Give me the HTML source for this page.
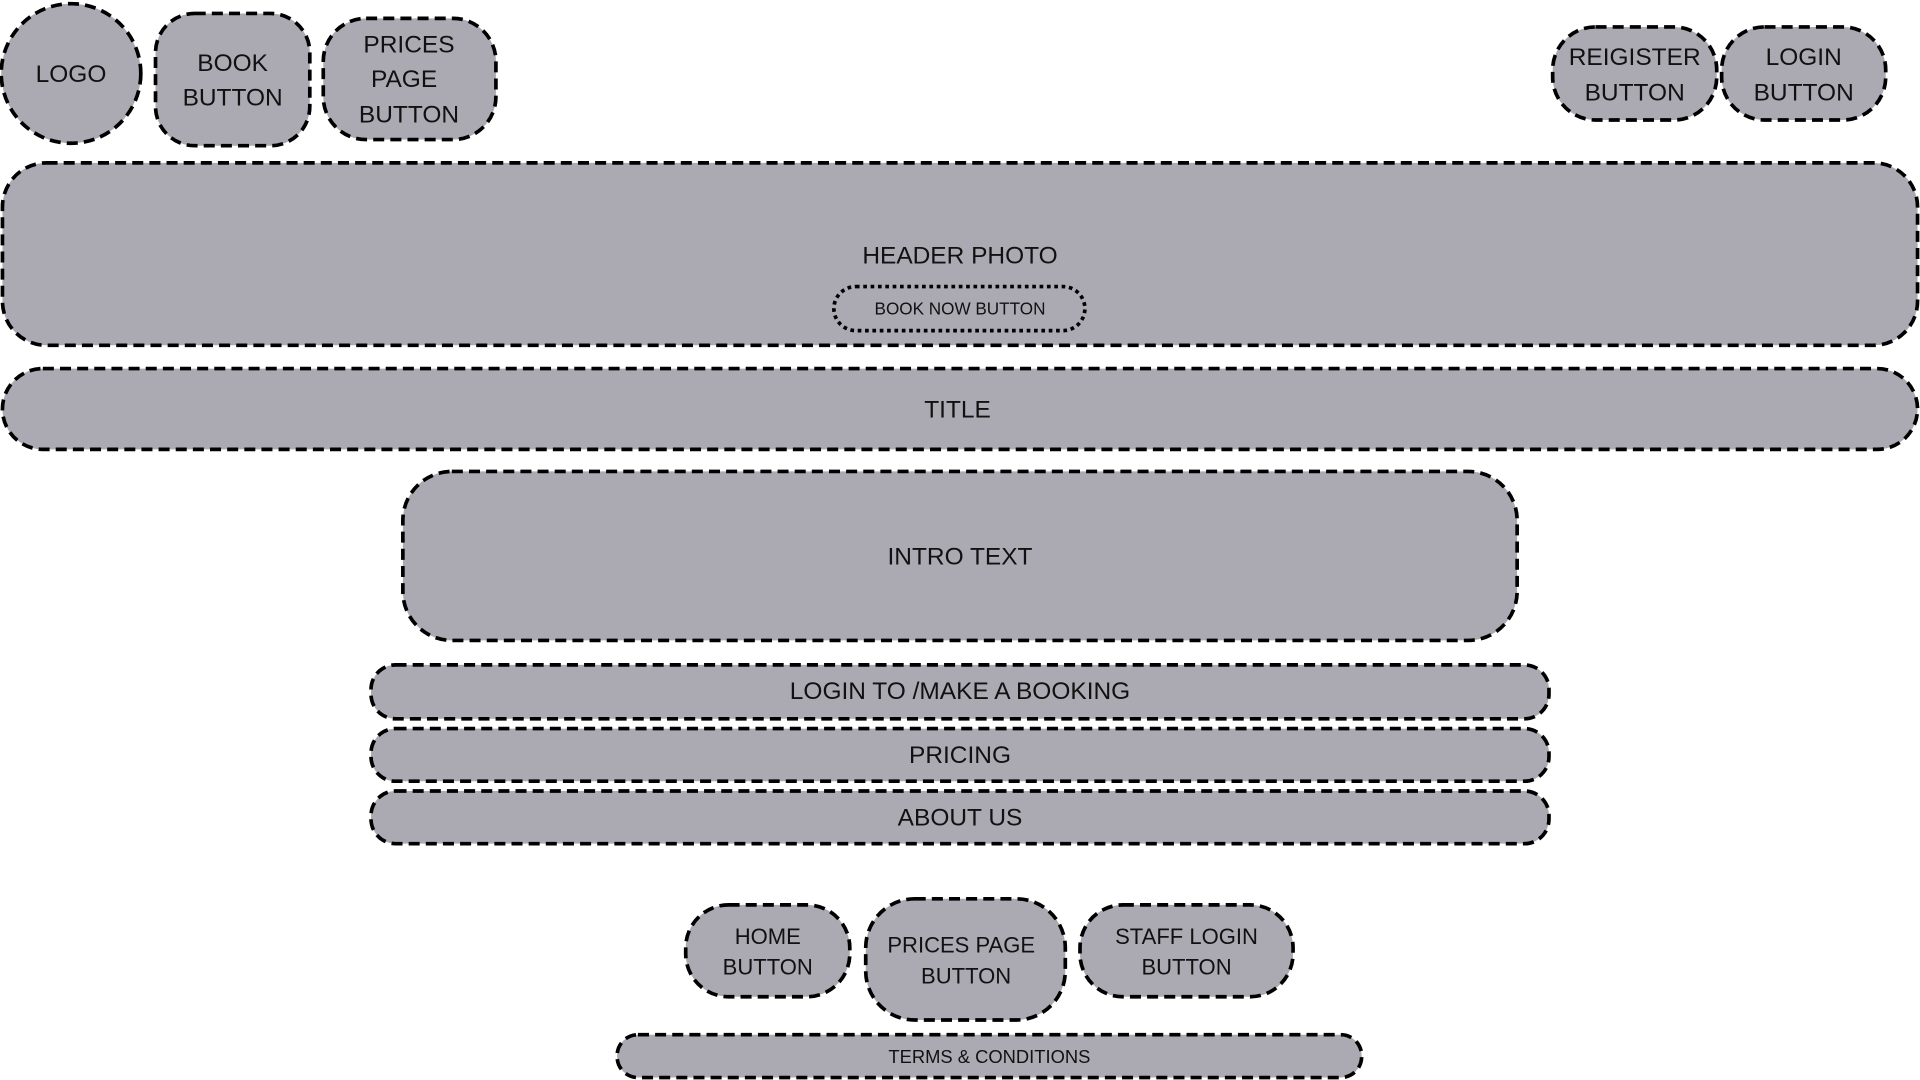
<!DOCTYPE html>
<html><head><meta charset="utf-8"><style>
html,body{margin:0;padding:0;background:#fff;width:1920px;height:1080px;overflow:hidden}
svg{display:block}
text{font-family:"Liberation Sans",sans-serif;fill:#111;text-anchor:middle}
.s{fill:#abaab3;stroke:#000;stroke-width:3;stroke-dasharray:9 5}
.d{fill:#abaab3;stroke:#000;stroke-width:3;stroke-dasharray:3 3}
</style></head><body>
<svg width="1920" height="1080" viewBox="0 0 1568 882" xmlns="http://www.w3.org/2000/svg">
<circle class="s" cx="58" cy="60" r="57"/>
<text x="58" y="67" font-size="20">LOGO</text>
<rect class="s" x="127" y="11" width="126" height="108" rx="32"/>
<text x="190" y="58" font-size="20">BOOK</text><text x="190" y="86" font-size="20">BUTTON</text>
<rect class="s" x="264" y="15" width="141" height="99" rx="35"/>
<text x="334" y="43" font-size="20">PRICES</text><text x="330" y="71" font-size="20">PAGE</text><text x="334" y="100" font-size="20">BUTTON</text>
<rect class="s" x="1268" y="22" width="134" height="76" rx="35"/>
<text x="1335" y="53" font-size="20">REIGISTER</text><text x="1335" y="82" font-size="20">BUTTON</text>
<rect class="s" x="1406" y="22" width="134" height="76" rx="35"/>
<text x="1473" y="53" font-size="20">LOGIN</text><text x="1473" y="82" font-size="20">BUTTON</text>
<rect class="s" x="2" y="133" width="1564" height="149" rx="36"/>
<text x="784" y="215" font-size="20">HEADER PHOTO</text>
<rect class="d" x="681" y="234" width="205" height="36" rx="18"/>
<text x="784" y="257" font-size="14">BOOK NOW BUTTON</text>
<rect class="s" x="2" y="301" width="1564" height="66" rx="33"/>
<text x="782" y="341" font-size="20">TITLE</text>
<rect class="s" x="329" y="385" width="910" height="138" rx="40"/>
<text x="784" y="461" font-size="20">INTRO TEXT</text>
<rect class="s" x="303" y="543" width="962" height="44" rx="20"/>
<text x="784" y="571" font-size="20">LOGIN TO /MAKE A BOOKING</text>
<rect class="s" x="303" y="595" width="962" height="43" rx="20"/>
<text x="784" y="623" font-size="20">PRICING</text>
<rect class="s" x="303" y="646" width="962" height="43" rx="20"/>
<text x="784" y="674" font-size="20">ABOUT US</text>
<rect class="s" x="560" y="739" width="134" height="75" rx="35"/>
<text x="627" y="771" font-size="18">HOME</text><text x="627" y="796" font-size="18">BUTTON</text>
<rect class="s" x="707" y="734" width="163" height="99" rx="40"/>
<text x="785" y="778" font-size="18">PRICES PAGE</text><text x="789" y="803" font-size="18">BUTTON</text>
<rect class="s" x="882" y="739" width="174" height="75" rx="35"/>
<text x="969" y="771" font-size="18">STAFF LOGIN</text><text x="969" y="796" font-size="18">BUTTON</text>
<rect class="s" x="504" y="845" width="608" height="35" rx="17"/>
<text x="808" y="868" font-size="15">TERMS &amp; CONDITIONS</text>
</svg>
</body></html>
